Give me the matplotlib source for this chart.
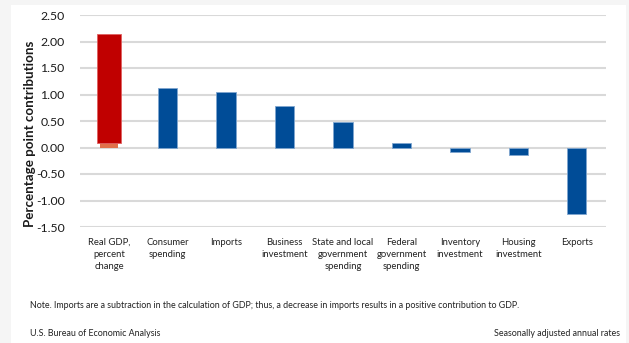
import matplotlib
matplotlib.use("Agg")
import matplotlib.pyplot as plt
from matplotlib.patches import Rectangle

categories = ["Real GDP,\npercent\nchange", "Consumer\nspending", "Imports",
              "Business\ninvestment", "State and local\ngovernment\nspending",
              "Federal\ngovernment\nspending", "Inventory\ninvestment",
              "Housing\ninvestment", "Exports"]
values = [2.15, 1.13, 1.04, 0.79, 0.49, 0.08, -0.09, -0.15, -1.26]
gdp_base = 0.08
yticks = [2.5, 2.0, 1.5, 1.0, 0.5, 0.0, -0.5, -1.0, -1.5]

plt.rcParams['font.family'] = ['Lato', 'DejaVu Sans']

fig = plt.figure(figsize=(6.29, 3.43), dpi=100)
fig.patch.set_facecolor('#f5f5f5')
fig.patches.append(Rectangle((11/629, 0), (626-11)/629, (343-5)/343,
                             transform=fig.transFigure, facecolor='white',
                             edgecolor='none', zorder=-10))

ax = fig.add_axes([80/629, 1-227/343, (606-80)/629, (227-15)/343])
ax.set_zorder(5)
ax.set_facecolor('none')
x = list(range(len(categories)))

# Real GDP bar: small orange base plus red bar
ax.bar(0, gdp_base, width=0.31, color='#E0704A', edgecolor='none', zorder=3)
ax.bar(0, values[0] - gdp_base, bottom=gdp_base, width=0.42, color='#C00000',
       edgecolor='#e06060', linewidth=0.6, zorder=3)
ax.bar(x[1:], values[1:], width=0.33, color='#004C97', edgecolor='#7fa6cf',
       linewidth=0.6, zorder=3)

ax.set_xlim(-0.5, len(categories) - 0.5)
ax.set_ylim(-1.5, 2.5)
ax.set_yticks(yticks)
ax.set_yticklabels([f"{v:.2f}" for v in yticks], fontsize=8.8, color='#1a1a1a')
ax.yaxis.grid(True, color='#d9d9d9', linewidth=1.5, zorder=0)
ax.set_axisbelow(True)
for s in ax.spines.values():
    s.set_visible(False)
ax.tick_params(axis='y', length=0, pad=11)
ax.tick_params(axis='x', length=0, pad=8)
ax.set_xticks(x)
ax.set_xticklabels(categories, fontsize=6.8, color='#222222', linespacing=1.45,
                   va='top')
ax.set_ylabel("Percentage point contributions", fontsize=9.6, fontweight='bold',
              color='#1a1a1a', va='center')
ax.yaxis.set_label_coords((30 - 80) / 526, (227 - 134) / 212)

fig.text(30/629, 1-306/343,
         "Note. Imports are a subtraction in the calculation of GDP; thus, a decrease in imports results in a positive contribution to GDP.",
         fontsize=6.4, color='#222222', va='center', ha='left')
fig.text(30/629, 1-333/343, "U.S. Bureau of Economic Analysis",
         fontsize=6.4, color='#222222', va='center', ha='left')
fig.text(620/629, 1-333/343, "Seasonally adjusted annual rates",
         fontsize=6.4, color='#222222', va='center', ha='right')

fig.savefig("out.png", dpi=100, facecolor=fig.get_facecolor())
